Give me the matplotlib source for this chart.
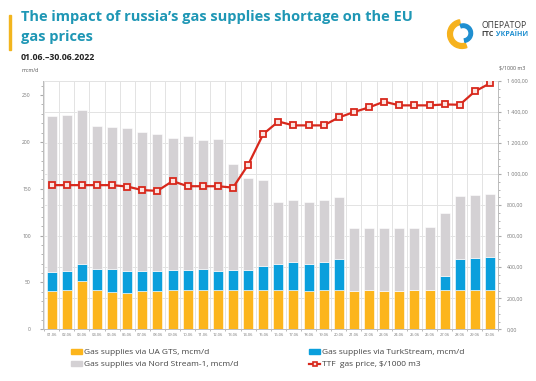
import numpy as np
import matplotlib
matplotlib.use("Agg")
import matplotlib.pyplot as plt
from matplotlib.patches import Patch, Wedge, Rectangle
from matplotlib.lines import Line2D

plt.rcParams["font.family"] = ["Open Sans", "DejaVu Sans"]

days = ["%02d.06" % d for d in range(1, 31)]

ua_gts = [40.6, 41.7, 52.0, 41.7, 39.5, 39.2, 40.6, 40.6, 41.7, 41.7,
          41.7, 41.7, 41.7, 41.7, 41.7, 41.7, 41.7, 41.0, 41.7, 41.7,
          40.6, 41.7, 41.3, 40.6, 41.7, 41.7, 41.7, 41.7, 41.7, 41.7]
turkstream = [20.3, 20.9, 18.0, 22.8, 25.0, 23.4, 21.3, 21.3, 22.1, 22.1,
              22.8, 20.9, 21.3, 21.3, 25.6, 27.7, 30.6, 29.2, 30.6, 33.4,
              0, 0, 0, 0, 0, 0, 15.6, 33.4, 34.8, 35.8]
nord_stream = [167.1, 166.4, 163.6, 152.5, 150.9, 152.4, 148.9, 146.8, 140.6, 142.0,
               137.7, 140.7, 113.6, 99.0, 92.2, 66.6, 65.2, 65.2, 65.5, 66.6,
               67.3, 66.9, 67.3, 67.3, 66.9, 67.6, 66.9, 67.1, 66.8, 67.2]
ttf_price = [929, 929, 929, 929, 929, 920, 897, 892, 955, 922,
             922, 922, 913, 1060, 1258, 1339, 1314, 1314, 1314, 1365,
             1400, 1430, 1467, 1443, 1443, 1443, 1449, 1447, 1533, 1585]

YELLOW = "#fcb51c"
BLUE = "#0a9fdc"
GREY = "#d4d1d4"
RED = "#d8281c"
TEAL = "#1f97b5"
GRID = "#e3e3e3"

fig = plt.figure(figsize=(5.36, 3.81), dpi=100)
ax = fig.add_axes([43.3 / 536, 1 - 329.3 / 381, (498.3 - 43.3) / 536, (329.3 - 81) / 381])
ax2 = ax.twinx()

LMAX, RMAX = 265.0, 1600.0
ax.set_ylim(0, LMAX)
ax2.set_ylim(0, RMAX)
ax.set_xlim(-0.55, 29.55)

x = np.arange(len(days))
ua = np.array(ua_gts)
ts = np.array(turkstream)
ns = np.array(nord_stream)
w = 0.66
ax.bar(x, ua, w, color=YELLOW, edgecolor="white", linewidth=0.4, zorder=3)
ax.bar(x, ts, w, bottom=ua, color=BLUE, edgecolor="white", linewidth=0.4, zorder=3)
ax.bar(x, ns, w, bottom=ua + ts, color=GREY, edgecolor="white", linewidth=0.4, zorder=3)

ax2.plot(x, ttf_price, color=RED, lw=1.6, marker="s", ms=4.4,
         mfc="#fbe3e0", mec=RED, mew=1.3, zorder=5)

# grid: horizontal lines follow the right axis ticks
ax2.set_yticks(np.arange(0, 1601, 200))
ax2.set_yticks(np.arange(0, 1601, 50), minor=True)
for v in ax2.get_yticks()[1:]:
    ax.axhline(v * LMAX / RMAX, color=GRID, lw=0.7, zorder=1)
ax.set_xticks(x)
ax.set_xticks(np.arange(-0.5, 30, 1), minor=True)
ax.grid(axis="x", which="minor", color=GRID, lw=0.7, zorder=1)
ax.set_axisbelow(True)

ax.set_xticklabels(days, fontsize=2.9, color="#777777")
ax.tick_params(axis="x", which="major", length=0, pad=3)
ax.tick_params(axis="x", which="minor", length=1.5, color="#aaaaaa")

ax.set_yticks(np.arange(0, 251, 50))
ax.set_yticks(np.arange(0, 261, 10), minor=True)
ax.tick_params(axis="y", which="major", labelsize=3.6, labelcolor="#777777",
               length=2, color="#aaaaaa", pad=7)
ax.tick_params(axis="y", which="minor", length=1.5, color="#aaaaaa")

ax2.set_yticklabels([("{:,.2f}".format(v)).replace(",", " ").replace(".", ",")
                     for v in ax2.get_yticks()])
ax2.tick_params(axis="y", which="major", labelsize=3.8, labelcolor="#777777",
                length=2, color="#aaaaaa", pad=4)
ax2.tick_params(axis="y", which="minor", length=1.5, color="#aaaaaa")

for a in (ax, ax2):
    for s in a.spines.values():
        s.set_color("#bdbdbd")
        s.set_linewidth(0.7)
    a.spines["top"].set_visible(False)

# titles
fig.patches.append(Rectangle((8.5 / 536, 1 - 50 / 381), 2.5 / 536, 35 / 381,
                             transform=fig.transFigure, color="#f2b51e"))
fig.text(21 / 536, 1 - 17 / 381, "The impact of russia\u2019s gas supplies shortage on the EU",
         fontsize=10.5, fontweight="bold", color=TEAL, va="center")
fig.text(21 / 536, 1 - 37 / 381, "gas prices",
         fontsize=10.5, fontweight="bold", color=TEAL, va="center")
fig.text(21 / 536, 1 - 58 / 381, "01.06.\u201330.06.2022",
         fontsize=6.3, fontweight="bold", color="#222222", va="center")
fig.text(21 / 536, 1 - 70 / 381, "mcm/d", fontsize=3.8, color="#555555", va="center")
fig.text(512 / 536, 1 - 68 / 381, "$/1000 m3", fontsize=3.8, color="#555555",
         va="center", ha="center")

# logo
lax = fig.add_axes([446 / 536, 1 - 50 / 381, 32 / 536, 32 / 381])
lax.set_xlim(-1, 1)
lax.set_ylim(-1, 1)
lax.set_aspect("equal")
lax.axis("off")
lax.add_patch(Wedge((0, 0), 0.9, 100, 290, width=0.3, color="#f6b21d"))
lax.add_patch(Wedge((0.08, 0.05), 0.58, -80, 110, width=0.22, color="#1f8fd0"))
fig.text(481 / 536, 1 - 26 / 381, "\u041e\u041f\u0415\u0420\u0410\u0422\u041e\u0420",
         fontsize=6.2, color="#3a3a3a", va="center")
fig.text(481 / 536, 1 - 35 / 381, "\u0413\u0422\u0421", fontsize=5.0, color="#3a3a3a",
         va="center", fontweight="bold")
fig.text(495.5 / 536, 1 - 35 / 381, "\u0423\u041a\u0420\u0410\u0407\u041d\u0418",
         fontsize=5.0, color="#1f8fd0", va="center", fontweight="bold")

# legend
handles = [
    Patch(color=YELLOW),
    Patch(color=GREY),
    Patch(color=BLUE),
    Line2D([], [], color=RED, lw=1.6, marker="s", ms=3.5, mfc="#fbe3e0", mec=RED, mew=1.2),
]
labels = [
    "Gas supplies via UA GTS, mcm/d",
    "Gas supplies via Nord Stream-1, mcm/d",
    "Gas supplies via TurkStream, mcm/d",
    "TTF  gas price, $/1000 m3",
]
fig.legend(handles, labels, ncol=2, loc="upper left",
           bbox_to_anchor=(71 / 536, 1 - 349 / 381), frameon=False,
           fontsize=6, labelcolor="#444444", handlelength=1.3, handleheight=0.5,
           handletextpad=0.25, columnspacing=8.5, labelspacing=0.55,
           borderpad=0, borderaxespad=0)

fig.savefig("out.png", dpi=100)
